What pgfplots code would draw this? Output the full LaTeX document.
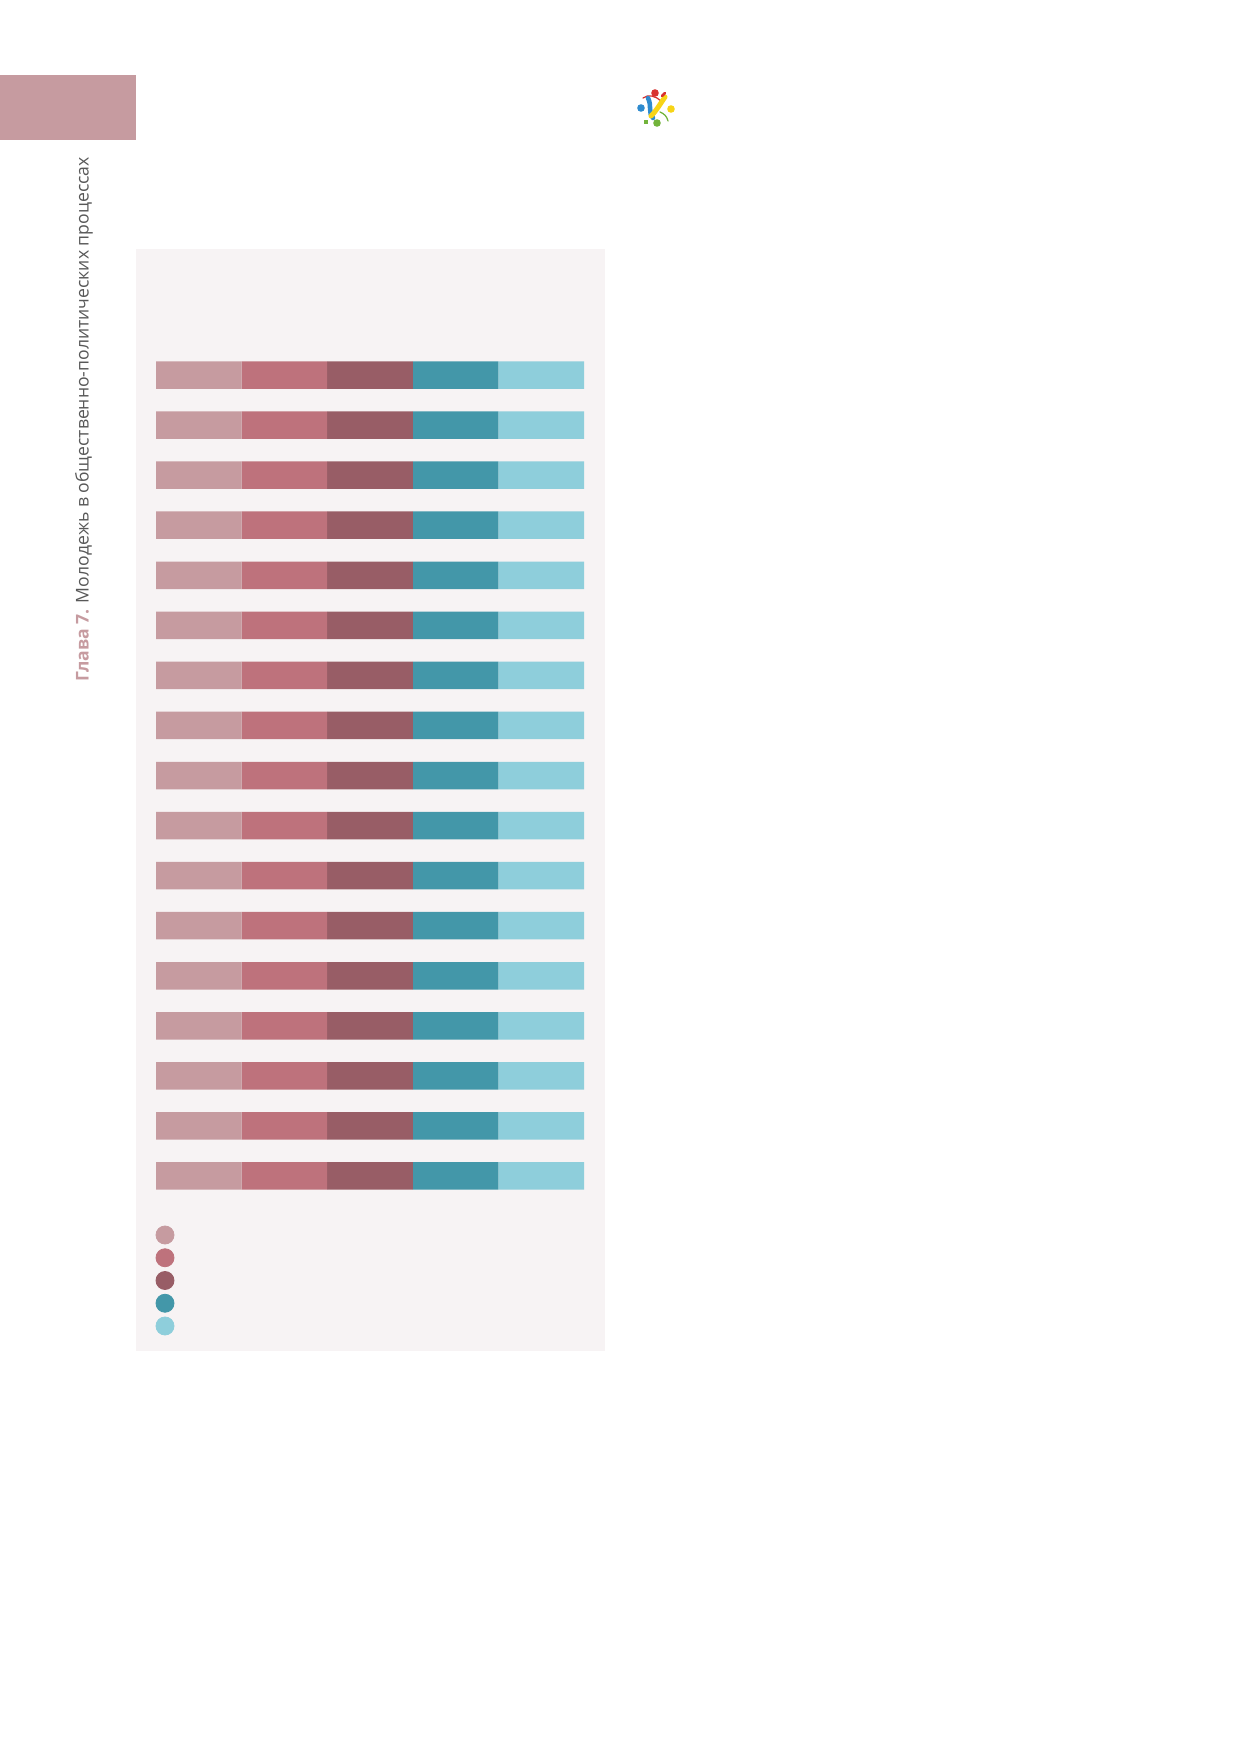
\documentclass[border=0pt]{standalone}
\usepackage{pgfplots}
\usepackage{pgfplotstable}
\pgfplotsset{compat=1.18}
\usepackage{fontspec}
\setmainfont{Open Sans}
\definecolor{cA}{HTML}{C69BA0}
\definecolor{cB}{HTML}{BE727C}
\definecolor{cC}{HTML}{985D66}
\definecolor{cD}{HTML}{4397A9}
\definecolor{cE}{HTML}{8ECEDB}
\definecolor{panel}{HTML}{F7F3F4}
\definecolor{txtgray}{HTML}{585858}
\definecolor{lgRed}{HTML}{D8312F}
\definecolor{lgBlue}{HTML}{2E8BCF}
\definecolor{lgYellow}{HTML}{F7D417}
\definecolor{lgGreen}{HTML}{72B33B}
\newcommand\px[1]{#1*0.48074bp}
\pgfplotstableread{
y a b c d e
0 20 20 20 20 20
1 20 20 20 20 20
2 20 20 20 20 20
3 20 20 20 20 20
4 20 20 20 20 20
5 20 20 20 20 20
6 20 20 20 20 20
7 20 20 20 20 20
8 20 20 20 20 20
9 20 20 20 20 20
10 20 20 20 20 20
11 20 20 20 20 20
12 20 20 20 20 20
13 20 20 20 20 20
14 20 20 20 20 20
15 20 20 20 20 20
16 20 20 20 20 20
}\bardata
\begin{document}
\begin{tikzpicture}
% page
\fill[white] (0,0) rectangle ({\px{1239}},{-\px{1752}});
\path[use as bounding box] (0,0) rectangle ({\px{1239}},{-\px{1752}});
% chapter tab
\fill[cA] (0,{-\px{75}}) rectangle ({\px{136}},{-\px{140}});
% vertical running head
\node[rotate=90, anchor=west, inner sep=0pt, font=\fontsize{8.5}{10}\selectfont] at ({\px{84}},{-\px{682}})
  {\textcolor{cA}{\textbf{Глава 7.}} \textcolor{txtgray}{Молодежь в общественно-политических процессах}};
% logo
\begin{scope}[line cap=round]
\draw[lgRed, line width=0.6bp] ({\px{643}},{-\px{98}}) .. controls ({\px{648}},{-\px{94}}) and ({\px{656}},{-\px{96}}) .. ({\px{661}},{-\px{101}});
\draw[lgBlue, line width=2.2bp] ({\px{648}},{-\px{98}}) .. controls ({\px{652}},{-\px{106}}) and ({\px{648}},{-\px{113}}) .. ({\px{653}},{-\px{118}});
\draw[lgYellow, line width=2.4bp] ({\px{665}},{-\px{97}}) .. controls ({\px{660}},{-\px{104}}) and ({\px{657}},{-\px{110}}) .. ({\px{651}},{-\px{116}});
\draw[lgRed, line width=1.2bp] ({\px{662}},{-\px{96}}) -- ({\px{665}},{-\px{93}});
\draw[lgGreen, line width=0.6bp] ({\px{660}},{-\px{112}}) .. controls ({\px{665}},{-\px{114}}) and ({\px{667}},{-\px{117}}) .. ({\px{668}},{-\px{121}});
\fill[lgRed] ({\px{655}},{-\px{93}}) circle ({\px{3.8}});
\fill[lgBlue] ({\px{641}},{-\px{108}}) circle ({\px{3.8}});
\fill[lgYellow] ({\px{671}},{-\px{109}}) circle ({\px{3.8}});
\fill[lgGreen] ({\px{657}},{-\px{123}}) circle ({\px{3.8}});
\fill[lgGreen] ({\px{644}},{-\px{120}}) rectangle ({\px{648}},{-\px{124}});
\end{scope}
% panel
\fill[panel] ({\px{136}},{-\px{249}}) rectangle ({\px{605}},{-\px{1351}});
% bars
\begin{axis}[
  at={({\px{156}},{-\px{350}})}, anchor=north west,
  scale only axis, width={\px{428}}, height={\px{851}},
  xbar stacked, bar width={\px{27.5}},
  xmin=0, xmax=100, ymin=-0.5, ymax=16.5, y dir=reverse,
  hide axis, clip=false,
]
\addplot[fill=cA, draw=none] table[x=a, y=y] {\bardata};
\addplot[fill=cB, draw=none] table[x=b, y=y] {\bardata};
\addplot[fill=cC, draw=none] table[x=c, y=y] {\bardata};
\addplot[fill=cD, draw=none] table[x=d, y=y] {\bardata};
\addplot[fill=cE, draw=none] table[x=e, y=y] {\bardata};
\end{axis}
% legend markers
\begin{axis}[
  at={({\px{165}},{-\px{1235}})}, anchor=north west,
  scale only axis, width={\px{20}}, height={\px{91}},
  xmin=0, xmax=1, ymin=0, ymax=4, y dir=reverse,
  hide axis, clip=false,
]
\addplot[only marks, mark=*, mark size={\px{9}}, color=cA] coordinates {(0,0)};
\addplot[only marks, mark=*, mark size={\px{9}}, color=cB] coordinates {(0,1)};
\addplot[only marks, mark=*, mark size={\px{9}}, color=cC] coordinates {(0,2)};
\addplot[only marks, mark=*, mark size={\px{9}}, color=cD] coordinates {(0,3)};
\addplot[only marks, mark=*, mark size={\px{9}}, color=cE] coordinates {(0,4)};
\end{axis}
\end{tikzpicture}
\end{document}
